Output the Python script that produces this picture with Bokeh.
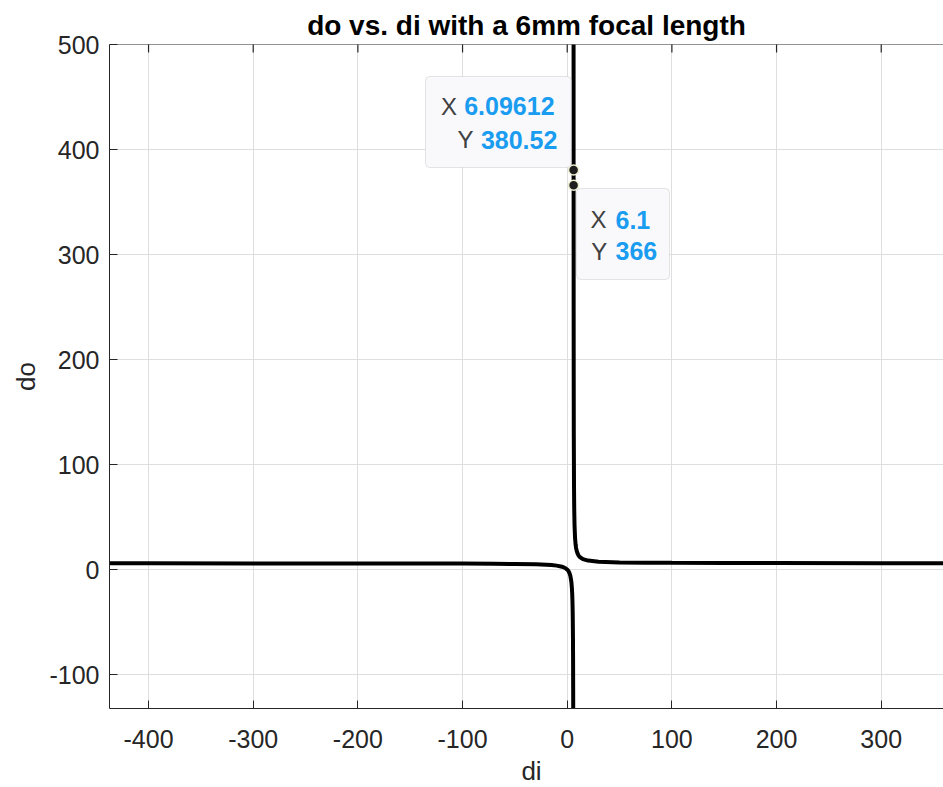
import math
from bokeh.plotting import figure
from bokeh.models import Range1d, FixedTicker, Label, BoxAnnotation, Span
from bokeh.embed import file_html
from bokeh.resources import INLINE

# ---- data ----
di_left = [-440, -400, -300, -200, -150, -100, -70, -50, -30, -20, -15, -10, -5, -2, 0,
           1, 2, 3, 4, 4.5, 4.8, 5, 5.2, 5.3, 5.5, 5.6, 5.7, 5.75, 5.8]
do_left = [5.919, 5.911, 5.882, 5.825, 5.769, 5.660, 5.526, 5.357, 5.0, 4.615, 4.286, 3.75,
           2.727, 1.5, 0.0, -1.2, -3.0, -6.0, -12.0, -18.0, -24.0, -30.0, -39.0, -45.43,
           -66.0, -84.0, -114.0, -138.0, -174.0]

di_right = [6.07, 6.09612, 6.1, 6.15, 6.2, 6.3, 6.5, 6.7, 7, 7.5, 8, 8.5, 9, 10, 11, 12,
            15, 20, 30, 50, 75, 100, 150, 200, 300, 360]
do_right = [520.3, 380.52, 366.0, 246.0, 186.0, 126.0, 78.0, 57.43, 42.0, 30.0, 24.0, 20.4,
            18.0, 15.0, 13.2, 12.0, 10.0, 8.571, 7.5, 6.818, 6.522, 6.383, 6.25, 6.186,
            6.122, 6.102]

x_ticks = [-400, -300, -200, -100, 0, 100, 200, 300]
y_ticks = [-100, 0, 100, 200, 300, 400, 500]

tip_x = [6.09612, 6.1]
tip_y = [380.52, 366.0]
tip_x_text = ["6.09612", "6.1"]
tip_y_text = ["380.52", "366"]

title_text = "do vs. di with a 6mm focal length"
x_label = "di"
y_label = "do"

FONT = "Liberation Sans"
AX = "#262626"

p = figure(width=943, height=787, output_backend="svg", toolbar_location=None,
           x_range=Range1d(-437.3, 359.5), y_range=Range1d(-132.3, 500),
           min_border_left=109, min_border_right=0, min_border_top=44,
           min_border_bottom=79, background_fill_color="white",
           border_fill_color="white", outline_line_color=None)

p.title.text = title_text
p.title.text_font = FONT
p.title.text_font_size = "28px"
p.title.text_font_style = "bold"
p.title.text_color = "#000000"
p.title.align = "center"
p.title.offset = 4
p.title.standoff = 8

def style_axis(ax, ticks):
    ax.ticker = FixedTicker(ticks=ticks)
    ax.major_label_overrides = {t: str(t) for t in ticks}
    ax.major_tick_in = 8
    ax.major_tick_out = 0
    ax.minor_tick_line_color = None
    ax.major_tick_line_color = AX
    ax.major_tick_line_width = 1
    ax.axis_line_color = AX
    ax.axis_line_width = 1
    ax.major_label_text_font = FONT
    ax.major_label_text_font_size = "25px"
    ax.major_label_text_color = AX
    ax.axis_label_text_font = FONT
    ax.axis_label_text_font_size = "26px"
    ax.axis_label_text_font_style = "normal"
    ax.axis_label_text_color = AX

xa = p.xaxis[0]
style_axis(xa, x_ticks)
xa.major_label_standoff = 21

ya = p.yaxis[0]
style_axis(ya, y_ticks)
ya.axis_label = y_label
ya.major_label_standoff = 10
ya.axis_label_standoff = 5

# x-axis label, placed in the panel below the axis
p.add_layout(Label(x=531, y=770, x_units="canvas", y_units="canvas", text=x_label,
                   text_font=FONT, text_font_size="26px", text_color=AX,
                   text_align="center", text_baseline="middle"), "below")

p.xgrid.ticker = FixedTicker(ticks=x_ticks)
p.ygrid.ticker = FixedTicker(ticks=y_ticks)
for g in (p.xgrid, p.ygrid):
    g.grid_line_color = "#dedede"
    g.grid_line_width = 1

# top box edge with inward ticks
p.add_layout(Span(location=y_ticks[-1], dimension="width", line_color=AX, line_width=1))
p.scatter(x_ticks, [y_ticks[-1]] * len(x_ticks), marker="dash", angle=math.pi / 2,
          size=16, line_color=AX, line_width=1.2)

p.line(di_left, do_left, line_width=4, line_color="black")
p.line(di_right, do_right, line_width=4, line_color="black")

p.scatter(tip_x, tip_y, size=10, fill_color="#1e1e1e", line_color="#eeeed0", line_width=1.5)

# data-tip boxes
for l, r, t, b in [(425, 570.7, 76, 167), (576, 669, 188, 279)]:
    p.add_layout(BoxAnnotation(left=l, right=r, top=t, bottom=b,
                               left_units="canvas", right_units="canvas",
                               top_units="canvas", bottom_units="canvas",
                               fill_color="#f9f9fb", fill_alpha=1.0,
                               line_color="#a8a8a8", line_width=1, border_radius=4))

# data-tip texts: (tip index, key, key dx, value, value dx, dy)
tip_lines = [
    (0, "X", -132.7, tip_x_text[0], -109.4, 63.6),
    (0, "Y", -116.0, tip_y_text[0], -92.7, 30.3),
    (1, "X", 16.9, tip_x_text[1], 41.9, -34.4),
    (1, "Y", 17.6, tip_y_text[1], 41.9, -66.1),
]
for i, key, kdx, val, vdx, dy in tip_lines:
    p.add_layout(Label(x=tip_x[i], y=tip_y[i], x_offset=kdx, y_offset=dy, text=key,
                       text_font=FONT, text_font_size="24px", text_color="#404040",
                       text_align="left", text_baseline="middle"))
    p.add_layout(Label(x=tip_x[i], y=tip_y[i], x_offset=vdx, y_offset=dy, text=val,
                       text_font=FONT, text_font_size="25px", text_font_style="bold",
                       text_color="#1a9cf0", text_align="left", text_baseline="middle"))

open("out.html", "w").write(file_html(p, INLINE))
